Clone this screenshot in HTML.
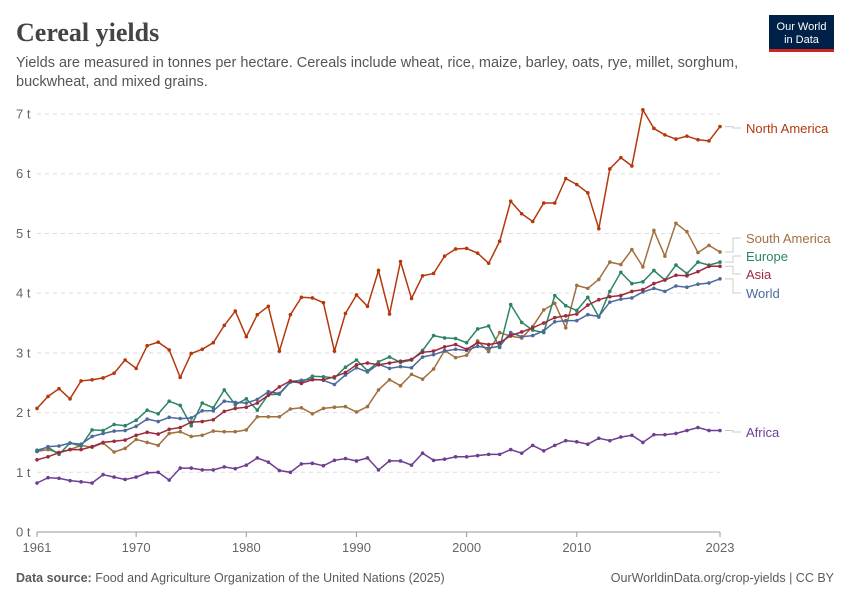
<!DOCTYPE html>
<html><head><meta charset="utf-8">
<style>
body{margin:0;background:#fff;width:850px;height:600px;overflow:hidden;font-family:"Liberation Sans",sans-serif}
</style></head><body>
<svg id="s" width="850" height="600" xmlns="http://www.w3.org/2000/svg" font-family="Liberation Sans, sans-serif">
<text x="16" y="41" font-family="Liberation Serif, serif" font-weight="bold" font-size="26" fill="#444">Cereal yields</text>
<text x="16" y="67" font-size="14.5" fill="#555">Yields are measured in tonnes per hectare. Cereals include wheat, rice, maize, barley, oats, rye, millet, sorghum,</text>
<text x="16" y="86" font-size="14.5" fill="#555">buckwheat, and mixed grains.</text>
<rect x="769" y="15" width="65" height="37" fill="#002147"/>
<rect x="769" y="49" width="65" height="3" fill="#ce261e"/>
<text x="801.5" y="30" font-size="11" fill="#fff" text-anchor="middle">Our World</text>
<text x="801.5" y="43" font-size="11" fill="#fff" text-anchor="middle">in Data</text>
<g id="grid"></g>
<g id="series"></g>
<text x="16" y="582" font-size="12.5" fill="#5b5b5b"><tspan font-weight="bold">Data source:</tspan> Food and Agriculture Organization of the United Nations (2025)</text>
<text x="834" y="582" font-size="12.5" fill="#5b5b5b" text-anchor="end">OurWorldinData.org/crop-yields | CC BY</text>
</svg>
<script>
var NS="http://www.w3.org/2000/svg";
function X(y){return 37+(y-1961)*11.016}
function Y(v){return 532-v*59.71}
function el(t,a,p,txt){var e=document.createElementNS(NS,t);for(var k in a)e.setAttribute(k,a[k]);if(txt)e.textContent=txt;p.appendChild(e);return e}
var g=document.getElementById("grid");
for(var i=0;i<=7;i++){var y=Y(i);
 if(i>0)el("line",{x1:37,x2:720,y1:y,y2:y,stroke:"#ddd","stroke-dasharray":"4,4"},g);
 el("text",{x:16,y:y+4.5,"font-size":13,fill:"#666"},g,i+" t");}
el("line",{x1:37,x2:720,y1:532,y2:532,stroke:"#999"},g);
[1961,1970,1980,1990,2000,2010,2023].forEach(function(yr){
 el("line",{x1:X(yr),x2:X(yr),y1:532,y2:537,stroke:"#999"},g);
 el("text",{x:X(yr),y:552,"font-size":13,fill:"#666","text-anchor":"middle"},g,yr);});
var D={
na:[2.07,2.27,2.40,2.23,2.53,2.55,2.58,2.66,2.88,2.74,3.12,3.18,3.05,2.59,2.99,3.06,3.17,3.46,3.70,3.27,3.64,3.78,3.03,3.64,3.93,3.92,3.84,3.03,3.66,3.97,3.78,4.38,3.65,4.53,3.91,4.29,4.33,4.62,4.74,4.75,4.67,4.50,4.87,5.54,5.33,5.20,5.51,5.51,5.92,5.82,5.68,5.08,6.08,6.27,6.13,7.07,6.76,6.65,6.58,6.63,6.57,6.55,6.79],
sa:[1.35,1.38,1.33,1.38,1.45,1.42,1.49,1.34,1.40,1.55,1.50,1.45,1.65,1.68,1.60,1.62,1.69,1.68,1.68,1.71,1.93,1.93,1.93,2.06,2.08,1.98,2.07,2.09,2.10,2.01,2.10,2.38,2.55,2.45,2.64,2.56,2.73,3.04,2.92,2.96,3.20,3.02,3.34,3.28,3.25,3.44,3.72,3.83,3.42,4.13,4.08,4.23,4.52,4.48,4.73,4.44,5.05,4.62,5.17,5.03,4.68,4.80,4.69],
eu:[1.37,1.42,1.30,1.49,1.44,1.71,1.70,1.80,1.78,1.87,2.04,1.98,2.19,2.12,1.78,2.16,2.08,2.38,2.13,2.23,2.04,2.30,2.31,2.51,2.51,2.61,2.60,2.58,2.76,2.88,2.70,2.85,2.93,2.84,2.88,3.04,3.29,3.25,3.24,3.17,3.40,3.45,3.09,3.81,3.51,3.38,3.34,3.96,3.79,3.71,3.93,3.60,4.03,4.35,4.16,4.19,4.38,4.22,4.47,4.33,4.52,4.47,4.52],
as:[1.21,1.26,1.33,1.38,1.38,1.43,1.50,1.52,1.54,1.62,1.67,1.64,1.72,1.75,1.84,1.85,1.88,2.02,2.07,2.09,2.16,2.29,2.43,2.53,2.49,2.55,2.55,2.60,2.67,2.80,2.83,2.80,2.83,2.86,2.89,3.01,3.03,3.10,3.14,3.06,3.17,3.14,3.17,3.29,3.35,3.42,3.50,3.59,3.62,3.65,3.80,3.89,3.94,3.96,4.03,4.06,4.16,4.22,4.30,4.29,4.36,4.45,4.45],
wo:[1.35,1.43,1.44,1.49,1.47,1.60,1.65,1.69,1.70,1.77,1.89,1.85,1.92,1.90,1.91,2.03,2.03,2.19,2.17,2.16,2.22,2.35,2.32,2.52,2.54,2.56,2.54,2.47,2.63,2.75,2.68,2.81,2.74,2.77,2.75,2.93,2.97,3.03,3.06,3.04,3.11,3.08,3.11,3.34,3.27,3.29,3.37,3.52,3.54,3.54,3.64,3.61,3.85,3.90,3.92,4.02,4.08,4.03,4.12,4.10,4.15,4.17,4.24],
af:[0.82,0.91,0.90,0.86,0.84,0.82,0.96,0.92,0.88,0.92,0.99,1.00,0.87,1.07,1.07,1.04,1.04,1.09,1.06,1.12,1.24,1.17,1.03,1.00,1.14,1.15,1.11,1.20,1.23,1.19,1.24,1.04,1.19,1.19,1.12,1.32,1.20,1.22,1.26,1.26,1.28,1.30,1.30,1.38,1.32,1.45,1.36,1.45,1.53,1.51,1.47,1.57,1.53,1.59,1.62,1.50,1.63,1.63,1.65,1.70,1.75,1.70,1.70]};
var S=[["af","#6d3e91","Africa",432],["sa","#a0703f","South America",238],["eu","#2c8465","Europe",256],["wo","#4c6a9c","World",293],["as","#9b2a3c","Asia",274],["na","#b4380d","North America",128]];
var sg=document.getElementById("series");
S.forEach(function(s){var d=D[s[0]],pts=d.map(function(v,i){return X(1961+i).toFixed(1)+","+Y(v).toFixed(1)}).join(" ");
 el("polyline",{points:pts,fill:"none",stroke:s[1],"stroke-width":1.5},sg);
 d.forEach(function(v,i){el("circle",{cx:X(1961+i),cy:Y(v),r:1.8,fill:s[1]},sg)});
 var ly=Y(d[d.length-1]);
 el("polyline",{points:"725,"+ly+" 733,"+ly+" 733,"+s[3]+" 741,"+s[3],fill:"none",stroke:"#ccc"},sg);
 el("text",{x:746,y:s[3]+5,"font-size":13,fill:s[1]},sg,s[2]);});
</script>
</body></html>
